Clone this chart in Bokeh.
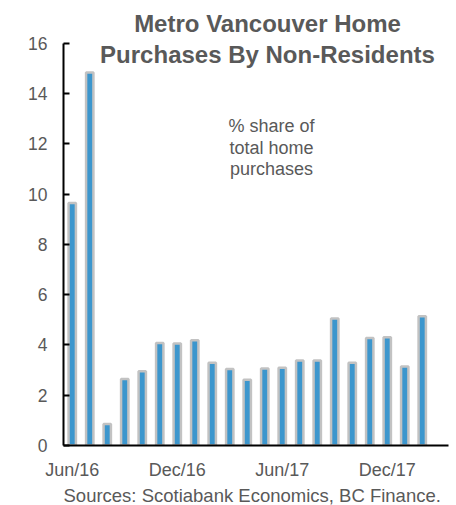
from bokeh.plotting import figure
from bokeh.models import Label, FixedTicker, Range1d, Title
from bokeh.embed import file_html
from bokeh.resources import INLINE

months = ["Jun/16", "Jul/16", "Aug/16", "Sep/16", "Oct/16", "Nov/16", "Dec/16",
          "Jan/17", "Feb/17", "Mar/17", "Apr/17", "May/17", "Jun/17", "Jul/17",
          "Aug/17", "Sep/17", "Oct/17", "Nov/17", "Dec/17", "Jan/18", "Feb/18"]
share = [9.65, 14.84, 0.86, 2.65, 2.95, 4.08, 4.06, 4.19, 3.29, 3.04, 2.62,
         3.06, 3.09, 3.38, 3.38, 5.05, 3.29, 4.28, 4.31, 3.14, 5.14]
tick_labels = {0: "Jun/16", 6: "Dec/16", 12: "Jun/17", 18: "Dec/17"}
y_ticks = [0, 2, 4, 6, 8, 10, 12, 14, 16]
title_lines = ["Metro Vancouver Home", "Purchases By Non-Residents"]
note_lines = ["% share of", "total home", "purchases"]
source_text = "Sources: Scotiabank Economics, BC Finance."

GRAY = "#595959"
FONT = "Liberation Sans"

TOP_BORDER = 4
Y_END = 16 * (446 - TOP_BORDER) / (446 - 43)

p = figure(width=456, height=505, output_backend="svg", toolbar_location=None,
           x_range=Range1d(-0.5, 21.5), y_range=Range1d(0, Y_END),
           min_border_left=63, min_border_right=8, min_border_top=TOP_BORDER,
           min_border_bottom=59)
p.outline_line_color = None
p.background_fill_color = "white"
p.border_fill_color = "white"
p.grid.grid_line_color = None

xs = list(range(len(share)))
p.vbar(x=xs, top=share, width=0.42, bottom=0, fill_color="#3c96cd",
       line_color="#c2c2c2", line_width=2.5)

# y axis
ya = p.yaxis[0]
ya.ticker = FixedTicker(ticks=y_ticks)
ya.bounds = (0, 16)
ya.axis_line_color = "black"
ya.axis_line_width = 2
ya.major_tick_line_color = "black"
ya.major_tick_line_width = 2
ya.major_tick_in = 6
ya.major_tick_out = 0
ya.minor_tick_line_color = None
ya.major_label_text_color = GRAY
ya.major_label_text_font = FONT
ya.major_label_text_font_size = "17.5px"
ya.major_label_standoff = 16

# x axis
xa = p.xaxis[0]
xa.ticker = FixedTicker(ticks=list(tick_labels.keys()))
xa.major_label_overrides = tick_labels
xa.axis_line_color = "black"
xa.axis_line_width = 2
xa.major_tick_line_color = None
xa.minor_tick_line_color = None
xa.major_label_text_color = GRAY
xa.major_label_text_font = FONT
xa.major_label_text_font_size = "18px"
xa.major_label_text_line_height = 1.0
xa.major_label_standoff = 8

# title lines
for txt, yy in zip(title_lines, [16.79, 15.56]):
    p.add_layout(Label(x=11.157, y=yy, text=txt,
                       text_align="center", text_baseline="middle",
                       text_font=FONT, text_font_style="bold",
                       text_font_size="24px", text_color=GRAY))

for txt, yy in zip(note_lines, [12.70, 11.85, 10.99]):
    p.add_layout(Label(x=11.386, y=yy, text=txt,
                       text_align="center", text_baseline="middle",
                       text_font=FONT, text_font_size="18px", text_color=GRAY))

p.add_layout(Title(text=source_text, align="left", offset=0, standoff=0,
                   text_font=FONT, text_font_style="normal",
                   text_line_height=1.0,
                   text_font_size="18.5px", text_color=GRAY), "below")

open("out.html", "w").write(file_html(p, INLINE))
